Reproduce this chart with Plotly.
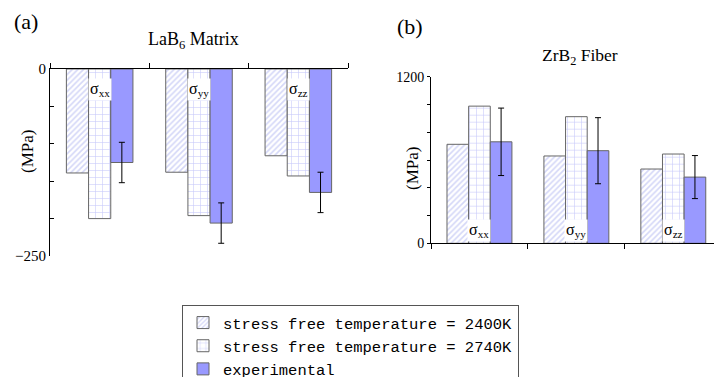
import plotly.graph_objects as go

categories = ["xx", "yy", "zz"]
cat_labels = ["σ<sub>xx</sub>", "σ<sub>yy</sub>", "σ<sub>zz</sub>"]
series_names = ["stress free temperature = 2400K",
                "stress free temperature = 2740K",
                "experimental"]

lab6_2400 = [-139, -138, -116]
lab6_2740 = [-200, -196, -143]
lab6_exp = [-125, -206, -165]
lab6_err = [27, 27, 27]

zrb2_2400 = [713, 629, 535]
zrb2_2740 = [988, 912, 643]
zrb2_exp = [731, 667, 477]
zrb2_err = [243, 238, 155]

SERIF = "Liberation Serif, Times New Roman, serif"
EXP = "#9999ff"
LINE = dict(color="#666666", width=1)
hatch = dict(shape="/", fgcolor="#a9aff0", bgcolor="#ffffff", size=4, solidity=0.4, fillmode="overlay")
grid = dict(shape="+", fgcolor="#8f95f5", bgcolor="#ffffff", size=7, solidity=0.16, fillmode="overlay")

fig = go.Figure()

def add_panel(vals1, vals2, vals3, err, xa, ya, show):
    fig.add_trace(go.Bar(x=categories, y=vals1, name=series_names[0], xaxis=xa, yaxis=ya,
                         marker=dict(color="#ffffff", pattern=hatch, line=LINE),
                         showlegend=show, legendgroup="a"))
    fig.add_trace(go.Bar(x=categories, y=vals2, name=series_names[1], xaxis=xa, yaxis=ya,
                         marker=dict(color="#ffffff", pattern=grid, line=LINE),
                         showlegend=show, legendgroup="b"))
    fig.add_trace(go.Bar(x=categories, y=vals3, name=series_names[2], xaxis=xa, yaxis=ya,
                         marker=dict(color=EXP, line=LINE),
                         error_y=dict(type="data", array=err, color="#000000", thickness=1, width=3),
                         showlegend=show, legendgroup="c"))

add_panel(lab6_2400, lab6_2740, lab6_exp, lab6_err, "x", "y", True)
add_panel(zrb2_2400, zrb2_2740, zrb2_exp, zrb2_err, "x2", "y2", False)

axis_common = dict(showgrid=False, zeroline=False, showline=True, linecolor="#000000", linewidth=1,
                   tickcolor="#000000", automargin=False)

fig.update_layout(
    width=718, height=377,
    margin=dict(l=0, r=0, t=0, b=0, autoexpand=False),
    paper_bgcolor="#ffffff", plot_bgcolor="#ffffff",
    barmode="group", bargap=0.33, bargroupgap=0,
    xaxis=dict(domain=[50/718, 348/718], anchor="y", side="top", type="category",
               range=[-0.5, 2.5], tickson="boundaries", ticks="outside", ticklen=5,
               showticklabels=False, **axis_common),
    yaxis=dict(domain=[1-256/377, 1-69/377], anchor="x", range=[-250, 0],
               tickvals=[0, -250], ticks="inside", ticklen=4,
               tickfont=dict(family=SERIF, size=15, color="#000000"),
               minor=dict(dtick=50, ticks="inside", ticklen=4, tickcolor="#000000"),
               **axis_common),
    xaxis2=dict(domain=[431/718, 714/718], anchor="y2", type="category",
                range=[-0.5, 2.42], tickson="boundaries", ticks="outside", ticklen=5,
                showticklabels=False, **axis_common),
    yaxis2=dict(domain=[1-243.3/377, 1-76.7/377], anchor="x2", range=[0, 1200],
                tickvals=[0, 1200], ticks="outside", ticklen=3,
                tickfont=dict(family=SERIF, size=14, color="#000000"),
                minor=dict(dtick=200, ticks="outside", ticklen=3, tickcolor="#000000"),
                **axis_common),
    legend=dict(x=182/718, y=1-305/377, xanchor="left", yanchor="top",
                bordercolor="#555555", borderwidth=1, bgcolor="#ffffff",
                font=dict(family="Liberation Mono, monospace", size=15.5, color="#000000"),
                tracegroupgap=0, itemwidth=30),
)

def txt(text, x, y, size, angle=0, xanchor="center"):
    return dict(text=text, x=x/718, y=1-y/377, xref="paper", yref="paper", xanchor=xanchor,
                yanchor="middle", textangle=angle, showarrow=False,
                font=dict(family=SERIF, size=size, color="#000"))

ann = [
    txt("(a)", 12, 22, 22, xanchor="left"),
    txt("LaB<sub>6</sub> Matrix", 194, 40, 18),
    txt("(b)", 410, 27, 22),
    txt("ZrB<sub>2</sub> Fiber", 580, 56, 17.5),
    txt("(MPa)", 27, 152, 17, angle=-90),
    txt("(MPa)", 412, 169, 17, angle=-90),
]
for c, lab in zip(categories, cat_labels):
    ann.append(dict(text=lab, x=c, y=0, xref="x", yref="y", xanchor="center", yanchor="top",
                    yshift=-9, showarrow=False, bgcolor="#ffffff", borderpad=1,
                    font=dict(family=SERIF, size=16, color="#000")))
    ann.append(dict(text=lab, x=c, y=0, xref="x2", yref="y2", xanchor="center", yanchor="bottom",
                    yshift=1, showarrow=False, bgcolor="#ffffff", borderpad=1,
                    font=dict(family=SERIF, size=16, color="#000")))
fig.update_layout(annotations=ann)

fig.write_html("out.html", config={"displayModeBar": False},
               post_script="document.body.style.margin='0';")
